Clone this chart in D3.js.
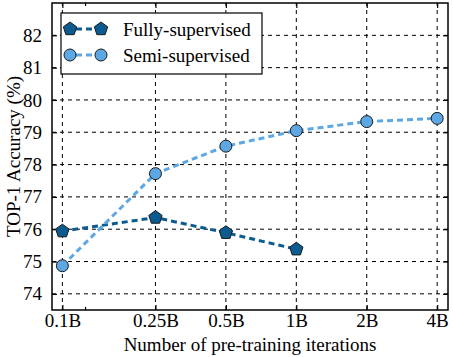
<!DOCTYPE html>
<html><head><meta charset="utf-8">
<script src="https://cdn.jsdelivr.net/npm/d3@7"></script>
<style>body{margin:0;background:#fff}svg{display:block}svg text{font-family:"Liberation Serif","DejaVu Serif",serif}</style>
</head><body>
<script>
const xTickValues = [0.1, 0.25, 0.5, 1, 2, 4];
const xTickLabels = ["0.1B", "0.25B", "0.5B", "1B", "2B", "4B"];
const xMinorTicks = [0.125];
const yTickValues = [74, 75, 76, 77, 78, 79, 80, 81, 82];
const fullyX = [0.1, 0.25, 0.5, 1];
const fullyY = [75.94, 76.36, 75.89, 75.38];
const semiX = [0.1, 0.25, 0.5, 1, 2, 4];
const semiY = [74.87, 77.72, 78.57, 79.05, 79.33, 79.43];
const seriesNames = ["Fully-supervised", "Semi-supervised"];
const colors = ["#0b5b91", "#5ca7e4"];

const FONT = "Liberation Serif";
const W = 453, H = 357;
const m = {l: 52, r: 5, t: 3, b: 47};
const svg = d3.select("body").append("svg").attr("width", W).attr("height", H);
const x = d3.scaleLog().domain([0.0903, 4.45]).range([m.l, W - m.r]);
const y = d3.scaleLinear().domain([73.5, 83]).range([H - m.b, m.t]);
const X0 = m.l, X1 = W - m.r, Y0 = H - m.b, Y1 = m.t;

// grid
const g = svg.append("g");
g.selectAll(".gx").data(xTickValues).join("line")
  .attr("x1", d => x(d)).attr("x2", d => x(d)).attr("y1", Y0).attr("y2", Y1)
  .attr("stroke", "#000").attr("stroke-width", 1).attr("stroke-dasharray", "4,4");
g.selectAll(".gy").data(yTickValues).join("line")
  .attr("y1", d => y(d)).attr("y2", d => y(d)).attr("x1", X0).attr("x2", X1)
  .attr("stroke", "#000").attr("stroke-width", 1).attr("stroke-dasharray", "4,4");

// axes (ticks inward)
const xb = d3.axisBottom(x).tickValues(xTickValues).tickFormat((d, i) => xTickLabels[i]).tickSizeInner(-5).tickSizeOuter(0).tickPadding(3);
const xt = d3.axisTop(x).tickValues(xTickValues).tickFormat("").tickSizeInner(-5).tickSizeOuter(0);
const yl = d3.axisLeft(y).tickValues(yTickValues).tickFormat(d3.format("d")).tickSizeInner(-5).tickSizeOuter(0).tickPadding(10);
const yr = d3.axisRight(y).tickValues(yTickValues).tickFormat("").tickSizeInner(-5).tickSizeOuter(0);
const xbm = d3.axisBottom(x).tickValues(xMinorTicks).tickFormat("").tickSizeInner(-3).tickSizeOuter(0);
const xtm = d3.axisTop(x).tickValues(xMinorTicks).tickFormat("").tickSizeInner(-3).tickSizeOuter(0);
function style(sel){ sel.attr("font-family", FONT).attr("font-size", 19); sel.select(".domain").remove(); sel.selectAll("line").attr("stroke","#000").attr("stroke-width",1.2); sel.selectAll("text").attr("font-family", FONT).attr("font-size", 19).attr("fill","#000"); }
svg.append("g").attr("transform", `translate(0,${Y0})`).call(xb).call(style);
svg.append("g").attr("transform", `translate(0,${Y1})`).call(xt).call(style);
svg.append("g").attr("transform", `translate(0,${Y0})`).call(xbm).call(style);
svg.append("g").attr("transform", `translate(0,${Y1})`).call(xtm).call(style);
svg.append("g").attr("transform", `translate(${X0},0)`).call(yl).call(style);
svg.append("g").attr("transform", `translate(${X1},0)`).call(yr).call(style);
svg.append("rect").attr("x", X0).attr("y", Y1).attr("width", X1 - X0).attr("height", Y0 - Y1)
  .attr("fill", "none").attr("stroke", "#000").attr("stroke-width", 1.5);

// lines
const line = d3.line().x(d => x(d[0])).y(d => y(d[1]));
const pent = d3.symbol().type({draw(ctx, size){ const r = Math.sqrt(size); for(let i=0;i<5;i++){ const a = -Math.PI/2 + i*2*Math.PI/5; const px = r*Math.cos(a), py = r*Math.sin(a); if(i===0) ctx.moveTo(px,py); else ctx.lineTo(px,py);} ctx.closePath(); }}).size(49);
const series = [
  {pts: fullyX.map((v, i) => [v, fullyY[i]]), color: colors[0], sym: "pent"},
  {pts: semiX.map((v, i) => [v, semiY[i]]), color: colors[1], sym: "circle"}
];
series.forEach(s => {
  svg.append("path").attr("d", line(s.pts)).attr("fill", "none").attr("stroke", s.color)
    .attr("stroke-width", 3).attr("stroke-dasharray", "6,4");
});
series.forEach(s => {
  s.pts.forEach(p => {
    if (s.sym === "circle") svg.append("circle").attr("cx", x(p[0])).attr("cy", y(p[1])).attr("r", 6)
      .attr("fill", s.color).attr("stroke", "#1a1a1a").attr("stroke-width", 1);
    else svg.append("path").attr("d", pent()).attr("transform", `translate(${x(p[0])},${y(p[1])})`)
      .attr("fill", s.color).attr("stroke", "#1a1a1a").attr("stroke-width", 1);
  });
});

// legend
const lg = svg.append("g");
lg.append("rect").attr("x", 61).attr("y", 13).attr("width", 201).attr("height", 61)
  .attr("fill", "#fff").attr("stroke", "#000").attr("stroke-width", 1.2);
series.forEach((s, i) => {
  const yy = 29 + i * 26;
  lg.append("line").attr("x1", 70).attr("x2", 101).attr("y1", yy).attr("y2", yy)
    .attr("stroke", s.color).attr("stroke-width", 3).attr("stroke-dasharray", "6,4").attr("stroke-dashoffset", -6);
  [70, 101].forEach(cx => {
    if (s.sym === "circle") lg.append("circle").attr("cx", cx).attr("cy", yy).attr("r", 6)
      .attr("fill", s.color).attr("stroke", "#1a1a1a").attr("stroke-width", 1);
    else lg.append("path").attr("d", pent()).attr("transform", `translate(${cx},${yy})`)
      .attr("fill", s.color).attr("stroke", "#1a1a1a").attr("stroke-width", 1);
  });
  lg.append("text").attr("x", 123).attr("y", yy).attr("dy", "0.35em").attr("font-family", FONT).attr("font-size", 19).text(seriesNames[i]);
});

// axis labels
svg.append("text").attr("x", (X0 + X1) / 2).attr("y", 351).attr("text-anchor", "middle").attr("font-family", FONT).attr("font-size", 19)
  .text("Number of pre-training iterations");
svg.append("text").attr("transform", `translate(20,${(Y0 + Y1) / 2}) rotate(-90)`).attr("text-anchor", "middle").attr("font-family", FONT).attr("font-size", 19)
  .text("TOP-1 Accuracy (%)");
</script>
</body></html>
